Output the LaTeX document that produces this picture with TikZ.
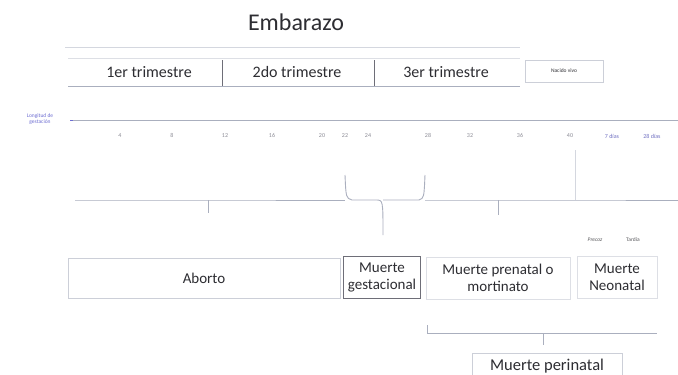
\documentclass[tikz,border=0pt]{standalone}
\usepackage{fontspec}
\setmainfont{Carlito}
\definecolor{txt}{RGB}{45,45,50}
\definecolor{ln}{RGB}{170,175,190}
\definecolor{lnd}{RGB}{110,110,120}
\definecolor{blu}{RGB}{110,110,210}
\definecolor{tick}{RGB}{140,140,150}
\tikzset{
  title/.style={font=\fontsize{24}{28}\selectfont, text=txt},
  tri/.style={font=\fontsize{16}{19}\selectfont, text=txt},
  tinylab/.style={font=\fontsize{6}{7}\selectfont, text=tick, anchor=base},
  catbox/.style={font=\fontsize{15}{17}\selectfont, text=txt, align=center},
  faint/.style={draw=ln, line width=0.6pt},
  brace/.style={draw=ln, line width=0.9pt},
}
\begin{document}
\begin{tikzpicture}[x=1pt,y=-1pt]
\useasboundingbox[fill=white] (0,0) rectangle (678,375);
% title
\node[title] (emb) at (296,22) {Embarazo};
\coordinate (tl1) at (65,47); \coordinate (tl2) at (520,47);
\draw[faint, draw=ln!50] (tl1) -- (tl2);
% trimester row
\coordinate (r1) at (68,86); \coordinate (r2) at (520,86);
\draw[faint] (r1) -- (r2);
\coordinate (ra) at (68,58); \coordinate (rb) at (520,58);
\draw[faint, draw=ln!40] (ra) -- (rb);
\node[tri] (t1) at (149,72) {1er trimestre};
\node[tri] (t2) at (297,72) {2do trimestre};
\node[tri] (t3) at (446,72) {3er trimestre};
\coordinate (s1a) at (222,60); \coordinate (s1b) at (222,86);
\coordinate (s2a) at (374,60); \coordinate (s2b) at (374,86);
\draw[lnd, line width=0.8pt] (s1a) -- (s1b);
\draw[lnd, line width=0.8pt] (s2a) -- (s2b);
\node[draw=ln!60, minimum width=78pt, minimum height=22pt, font=\fontsize{5.5}{6}\selectfont, text=txt] (nv) at (564,71) {Nacido vivo};
% gestation axis
\node[font=\fontsize{5.5}{6.5}\selectfont, text=blu, align=center] (lg) at (40,119) {Longitud de\\ gestación};
\coordinate (ax0) at (70,120); \coordinate (ax1) at (678,120);
\draw[draw=ln, line width=0.7pt] (ax0) -- (ax1);
\draw[blu, line width=1pt] (ax0) -- ++(3,0);
\foreach \xx/\lab [count=\i] in {120/4,172/8,225/12,272/16,322/20,345/22,368/24,428/28,470/32,520/36,570/40}
  \node[tinylab] (tk\i) at (\xx,137) {\lab};
\node[tinylab, text=blu!80!gray] (d7) at (612,138) {7 días};
\node[tinylab, text=blu!80!gray] (d28) at (652,138) {28 días};
% brace line
\coordinate (b0) at (75,200);
\coordinate (bA) at (208,200); \coordinate (bAt) at (208,213);
\coordinate (bB) at (345,200); \coordinate (bBt) at (345,175);
\coordinate (bC) at (383,200); \coordinate (bCt) at (383,235);
\coordinate (bD) at (425,200); \coordinate (bDt) at (425,175);
\coordinate (bE) at (498,200); \coordinate (bEt) at (498,215);
\coordinate (bF) at (575,200); \coordinate (bFt) at (575,150);
\coordinate (b9) at (678,200);
\draw[brace] (b0) -- (bA) -- (bB);
\draw[brace] (bA) -- (bAt);
\draw[brace] (bBt) .. controls (346,198) .. (352,200) -- (376,200) .. controls (383,200) .. (bCt);
\draw[brace] (bC) .. controls (383,200) .. (390,200) -- (419,200) .. controls (424,198) .. (bDt);
\draw[brace] (bD) -- (bF) -- (b9);
\draw[brace] (bE) -- (bEt);
\draw[draw=ln!50, line width=0.6pt] (bF) -- (bFt);
% small labels
\node[font=\itshape\fontsize{5.5}{6}\selectfont, text=txt!80] (pre) at (595,240) {Precoz};
\node[font=\fontsize{5.5}{6}\selectfont, text=txt!80] (tar) at (633,240) {Tardía};
% category boxes
\node[catbox, draw=ln!60, minimum width=272pt, minimum height=40pt] (ab) at (204,278) {Aborto};
\node[catbox, draw=lnd, minimum width=77pt, minimum height=42pt, inner sep=1pt] (mg) at (382,277) {Muerte\\gestacional};
\node[catbox, draw=ln!40, minimum width=144pt, minimum height=42pt] (mp) at (498,278) {Muerte prenatal o\\mortinato};
\node[catbox, draw=ln!40, minimum width=80pt, minimum height=42pt] (mn) at (617,277) {Muerte\\Neonatal};
% perinatal bracket
\coordinate (p0) at (427,325); \coordinate (p1) at (427,333);
\coordinate (p2) at (543,333); \coordinate (p3) at (657,333);
\coordinate (p4) at (543,345);
\draw[brace] (p0) -- (p1) -- (p3);
\draw[brace] (p2) -- (p4);
\node[catbox, draw=ln!60, minimum width=150pt, minimum height=26pt, font=\fontsize{16.5}{18}\selectfont] (per) at (547,366) {Muerte perinatal};
\end{tikzpicture}
\end{document}
